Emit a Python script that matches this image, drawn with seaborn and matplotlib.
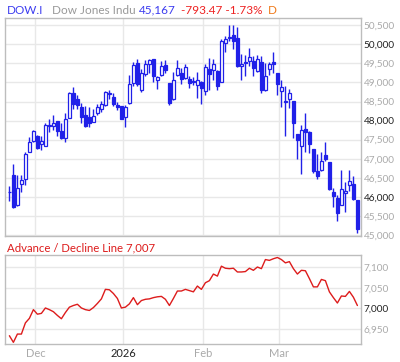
import seaborn as sns
import matplotlib.pyplot as plt
import numpy as np
import pandas as pd

# daily OHLC, Dow Jones Industrial Average
opens = [46133, 46583, 45787, 46341, 46462, 47188, 47465, 47586, 47396, 47344,
         47846, 47863, 47984, 47725, 47552, 48071, 48711, 48572, 48365, 48140,
         48105, 47967, 48192, 48313, 48399, 48690, 48624, 48417, 48382, 48105,
         48451, 48988, 49507, 48815, 49230, 49489, 49610, 49057, 49195, 49455,
         48988, 48555, 49195, 49247, 49109, 49091, 49040, 48936, 49005, 48780,
         49351, 49316, 49299, 49005, 50026, 50164, 50233, 50164, 49437, 49541,
         49559, 49559, 49299, 49541, 48797, 49351, 49541, 49247, 48780, 48486,
         48572, 48520, 47638, 47344, 47777, 47690, 47258, 46687, 46704, 47102,
         46912, 46133, 45977, 45787, 46099, 46306, 46341, 45908]
highs = [46289, 46860, 46583, 46583, 47188, 47569, 47751, 47621, 47604, 47950,
         48053, 48140, 47984, 47950, 48192, 48763, 48884, 48676, 48451, 48382,
         48365, 48296, 48434, 48520, 48780, 48797, 48711, 48486, 48382, 48399,
         49195, 49524, 49610, 49351, 49576, 49628, 49610, 49178, 49559, 49593,
         48988, 49282, 49593, 49368, 49489, 49161, 49143, 49282, 49040, 49489,
         49645, 49628, 49334, 50147, 50216, 50510, 50510, 50458, 49749, 49732,
         49905, 49697, 49732, 49697, 49507, 49524, 49801, 49247, 49074, 48901,
         48832, 48520, 47638, 47880, 48209, 47725, 47258, 47119, 47171, 47431,
         46912, 46237, 46047, 46704, 46393, 46704, 46548, 45908]
lows = [45891, 45718, 45770, 46116, 46323, 47171, 47448, 47258, 47240, 47344,
        47690, 47742, 47604, 47517, 47448, 48071, 48313, 48296, 47932, 47829,
        47829, 47967, 48157, 48226, 48382, 48555, 48382, 48278, 48036, 47829,
        48434, 48901, 48918, 48763, 49178, 49247, 49022, 48832, 49178, 49247,
        48417, 48538, 49178, 48953, 49091, 48849, 48936, 48590, 48434, 48676,
        48815, 49074, 48815, 49005, 49801, 50095, 49887, 49403, 49057, 49161,
        49420, 49178, 49282, 48728, 48780, 49195, 49247, 48659, 48348, 47604,
        48330, 47552, 46998, 46600, 47171, 47154, 46635, 46479, 46687, 46946,
        46168, 45735, 45372, 45787, 45614, 46150, 45908, 45060]
closes = [46140, 45735, 46237, 46445, 47119, 47431, 47716, 47275, 47465, 47880,
          47880, 47950, 47725, 47552, 48053, 48711, 48434, 48399, 48105, 47863,
          47950, 48123, 48365, 48434, 48745, 48711, 48434, 48348, 48036, 48365,
          48970, 49455, 48970, 49247, 49489, 49576, 49161, 49143, 49420, 49334,
          48469, 49057, 49368, 49091, 49403, 48988, 49022, 49074, 48867, 49403,
          49213, 49489, 48901, 50095, 50129, 50181, 50095, 49420, 49489, 49507,
          49662, 49368, 49610, 48797, 49161, 49489, 49472, 48953, 48884, 48520,
          48728, 47950, 47483, 47742, 47690, 47396, 46669, 46548, 46929, 46981,
          46202, 46029, 45580, 46202, 46150, 46410, 45943, 45167]

# NYSE advance / decline line
ad_line = [6934, 6918, 6938, 6938, 6965, 6976, 6997, 6986, 6988, 7001,
           6997, 6992, 6983, 6975, 6990, 7003, 7007, 7010, 7001, 6997,
           6995, 7002, 7012, 7023, 7046, 7045, 7036, 7024, 7001, 7003,
           7011, 7026, 7009, 7019, 7022, 7023, 7026, 7028, 7029, 7022,
           7007, 7024, 7042, 7042, 7046, 7043, 7040, 7054, 7046, 7062,
           7067, 7083, 7078, 7102, 7097, 7096, 7097, 7088, 7088, 7089,
           7097, 7092, 7100, 7096, 7118, 7116, 7120, 7123, 7118, 7110,
           7113, 7096, 7083, 7092, 7091, 7072, 7052, 7052, 7070, 7067,
           7040, 7026, 7013, 7030, 7029, 7041, 7027, 7007]

holidays = ['2025-11-27', '2025-12-25', '2026-01-01', '2026-01-19', '2026-02-16']
month_labels = ['Dec', '2026', 'Feb', 'Mar']
price_ticks = [45000, 45500, 46000, 46500, 47000, 47500, 48000, 48500, 49000, 49500, 50000, 50500]
ad_ticks = [6950, 7000, 7050, 7100]

dates = pd.bdate_range('2025-11-19', '2026-03-27', freq='C', holidays=holidays)
df = pd.DataFrame({'date': dates[:len(closes)], 'open': opens, 'high': highs,
                   'low': lows, 'close': closes, 'ad': ad_line})
df['i'] = np.arange(len(df))

# month boundaries sit half a bar before the first session of the month
first_of_month = df.index[df['date'].dt.month != df['date'].shift().dt.month][1:]
month_pos = [p - 0.5 for p in first_of_month]

sns.set_theme(style='white')
plt.rcParams['font.family'] = ['Lato', 'DejaVu Sans']

BLUE = '#2020e8'
RED = '#dd1c1c'
GRID = '#e8e8e8'
EDGE = '#bdbdbd'

fig = plt.figure(figsize=(4.0, 3.62), dpi=100)
ax = fig.add_axes([5 / 400, 1 - 236 / 362, 356 / 400, 218 / 362])
ax2 = fig.add_axes([5 / 400, 1 - 344 / 362, 356 / 400, 89 / 362])

# candles
up = df['close'] >= df['open']
ax.vlines(df['i'], df['low'], df['high'], color=BLUE, lw=1.0, zorder=2)
ax.bar(df['i'], (df['close'] - df['open']).abs().clip(lower=8),
       bottom=df[['open', 'close']].min(axis=1), width=0.62,
       color=np.where(up, 'white', BLUE), edgecolor=BLUE, linewidth=0.9, zorder=3)

sns.lineplot(data=df, x='i', y='ad', ax=ax2, color=RED, lw=1.0)

for a, ticks, ylim, dark in [(ax, price_ticks, (44975, 50690), (46000, 48000, 50000)),
                             (ax2, ad_ticks, (6914, 7129), (7000,))]:
    a.set_xlim(-1.1, 87.9)
    a.set_ylim(*ylim)
    a.set_yticks(ticks)
    a.set_yticklabels([f'{t:,}' for t in ticks])
    a.yaxis.tick_right()
    a.tick_params(axis='y', length=0, pad=2, labelsize=7.2, labelcolor='#aaaaaa')
    for t, lab in zip(ticks, a.get_yticklabels()):
        if t in dark:
            lab.set_color('#222222')
    a.set_xticks(month_pos)
    a.grid(True, color=GRID, lw=1.0)
    a.set_axisbelow(True)
    a.set_xlabel('')
    a.set_ylabel('')
    for s in a.spines.values():
        s.set_color(EDGE)
        s.set_linewidth(1.0)

ax.set_xticklabels([])
ax.tick_params(axis='x', length=0)
ax2.set_xticklabels(month_labels)
ax2.tick_params(axis='x', length=0, pad=3, labelsize=8, labelcolor='#aaaaaa')
ax2.get_xticklabels()[1].set_color('#222222')

# header lines
fs = 8.5
y_top = 1 - 10 / 362
fig.text(7 / 400, y_top, 'DOW.I', color='#3c3cf0', fontsize=fs, va='center')
fig.text(52 / 400, y_top, 'Dow Jones Indu', color='#999999', fontsize=fs, va='center')
fig.text(139 / 400, y_top, '45,167', color='#3c3cf0', fontsize=fs, va='center')
fig.text(181 / 400, y_top, '-793.47 -1.73%', color='#ee2222', fontsize=fs, va='center')
fig.text(268 / 400, y_top, 'D', color='#f07a1a', fontsize=fs, va='center')
fig.text(7 / 400, 1 - 248 / 362, 'Advance / Decline Line 7,007', color=RED,
         fontsize=8.2, va='center')

fig.savefig('out.png', dpi=100)
